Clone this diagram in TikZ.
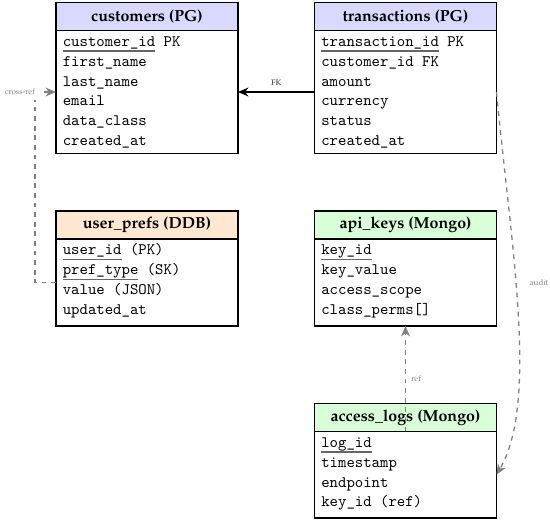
\documentclass[tikz,border=0pt]{standalone}
\usepackage[T1,TU]{fontenc}
\usetikzlibrary{arrows.meta,calc}
\newdimen\pxu \pxu=0.625pt
\newcommand\hdrfont{\fontencoding{T1}\fontfamily{ppl}\fontseries{b}\fontsize{10}{12}\selectfont}
\newcommand\lblfont{\fontencoding{T1}\fontfamily{ppl}\fontseries{m}\fontsize{5}{6}\selectfont}
\newcommand\keyf[1]{\setbox0=\hbox{#1}\rlap{\color{black!60}\rule[-3.3pt]{\wd0}{0.85pt}}\box0\relax}
\newcommand\fieldrows[3]{\foreach \f [count=\i] in {#3}{\node[fld] (#2\i) at ($(#1.north west)+(6.5,{15.8+19.9*(\i-1)})$) {\f};}}
\tikzset{
  box/.style={draw, line width=0.8pt, minimum width=182\pxu, inner sep=0pt, outer sep=0pt, anchor=north west},
  hdr/.style={box, minimum height=28\pxu, font=\hdrfont},
  bodybox/.style={box, fill=white},
  fld/.style={anchor=base west, inner sep=0pt, font=\ttfamily\fontsize{10}{12}\selectfont},
  lbl/.style={font=\lblfont, text=black!50},
  lblfk/.style={font=\lblfont, text=black!80},
  fkline/.style={line width=0.8pt, -{Stealth[length=6.5pt,width=5.5pt,inset=2pt]}},
  refline/.style={line width=0.8pt, black!50, dashed, -{Stealth[length=6.5pt,width=5.5pt,inset=2pt]}}
}
\begin{document}
\begin{tikzpicture}[x=0.625pt,y=-0.625pt]
\useasboundingbox (0,0) rectangle (550,523);
% customers
\node[hdr, fill=blue!15] (ch) at (56,2.5) {customers (PG)};
\node[bodybox, minimum height=123\pxu] (cb) at (56,30.5) {};
\fieldrows{cb}{c}{{\keyf{customer\_id} PK},first\_name,last\_name,email,data\_class,created\_at}
% transactions
\node[hdr, fill=blue!15] (th) at (314.5,2.5) {transactions (PG)};
\node[bodybox, minimum height=123\pxu] (tb) at (314.5,30.5) {};
\fieldrows{tb}{t}{{\keyf{transaction\_id} PK},customer\_id FK,amount,currency,status,created\_at}
% user_prefs
\node[hdr, fill=orange!18] (uh) at (56,211) {user\_prefs (DDB)};
\node[bodybox, minimum height=87\pxu] (ub) at (56,239) {};
\fieldrows{ub}{u}{{\keyf{user\_id} (PK)},{\keyf{pref\_type} (SK)},value (JSON),updated\_at}
% api_keys
\node[hdr, fill=green!15] (akh) at (314.5,211) {api\_keys (Mongo)};
\node[bodybox, minimum height=87\pxu] (akb) at (314.5,239) {};
\fieldrows{akb}{k}{{\keyf{key\_id}},key\_value,access\_scope,class\_perms[]}
% access_logs
\node[hdr, fill=green!15] (alh) at (314.5,403.5) {access\_logs (Mongo)};
\node[bodybox, minimum height=86.5\pxu] (alb) at (314.5,431.5) {};
\fieldrows{alb}{l}{{\keyf{log\_id}},timestamp,endpoint,key\_id (ref)}
% FK
\draw[fkline] (tb.west) -- node[lblfk, above] (fkl) {FK} (cb.east);
% cross-ref
\coordinate (xa) at ($(ub.west)+(-21,0)$);
\coordinate (xb) at (xa |- cb.west);
\draw[refline] (ub.west) -- (xa) -- (xb) -- (cb.west);
\node[lbl, fill=white] (xrl) at (20,92) {cross-ref};
% audit
\draw[refline] (tb.east) .. controls +(15,157) and +(42,-72) .. (alb.east);
\node[lbl] (aul) at (539,283) {audit};
% ref
\draw[refline] (alb.north) -- node[lbl, right] (rfl) {ref} (akb.south);
\end{tikzpicture}
\end{document}
